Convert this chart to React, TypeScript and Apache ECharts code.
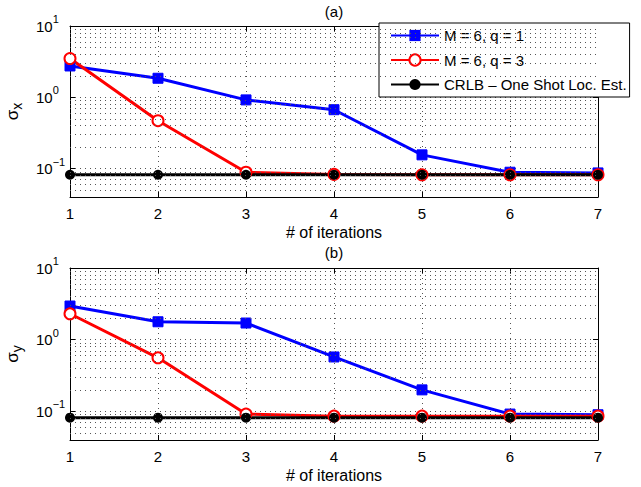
import React, { useEffect, useRef } from "react";
import * as echarts from "echarts";

const iterations = [1, 2, 3, 4, 5, 6, 7];
const seriesNames = ["M = 6, q = 1", "M = 6, q = 3", "CRLB \u2013 One Shot Loc. Est."];

const sigmaXq1 = [2.75, 1.85, 0.92, 0.67, 0.156, 0.089, 0.087];
const sigmaXq3 = [3.5, 0.47, 0.089, 0.083, 0.082, 0.082, 0.082];
const sigmaXcrlb = [0.082, 0.082, 0.082, 0.082, 0.082, 0.082, 0.082];

const sigmaYq1 = [2.95, 1.78, 1.71, 0.575, 0.2, 0.092, 0.09];
const sigmaYq3 = [2.3, 0.56, 0.092, 0.086, 0.086, 0.086, 0.086];
const sigmaYcrlb = [0.082, 0.082, 0.082, 0.082, 0.082, 0.082, 0.082];

const minorGrid = [0.05, 0.06, 0.07, 0.08, 0.09, 0.2, 0.3, 0.4, 0.5, 0.6, 0.7, 0.8, 0.9, 2, 3, 4, 5, 6, 7, 8, 9];

const FONT = "Liberation Sans, Arial, Helvetica, sans-serif";
const DOT = { color: "#555", width: 1, type: [1, 4] as any };

const logLabel = (v: number) => {
  const l = Math.log10(v);
  const e = Math.round(l);
  if (Math.abs(l - e) > 1e-6) return "";
  return `{b|10}{s|${e < 0 ? "\u2212" + -e : e}}`;
};

export default function App() {
  const ref = useRef<HTMLDivElement>(null);
  useEffect(() => {
    if (!ref.current) return;
    const chart = echarts.init(ref.current, null, { renderer: "svg" });
    const grids = [
      { left: 70, top: 26, width: 528, height: 171, containLabel: false, outerBoundsMode: "none" },
      { left: 70, top: 268, width: 528, height: 172, containLabel: false, outerBoundsMode: "none" },
    ];
    const xAxes: any[] = [];
    const yAxes: any[] = [];
    const series: any[] = [];
    const data = [
      [sigmaXq1, sigmaXq3, sigmaXcrlb],
      [sigmaYq1, sigmaYq3, sigmaYcrlb],
    ];
    const yNames = ["{s|\u03c3}{sub|x}", "{s|\u03c3}{sub|y}"];
    [0, 1].forEach((g) => {
      xAxes.push({
        type: "value",
        gridIndex: g,
        min: 1,
        max: 7,
        interval: 1,
        position: "bottom",
        name: "# of iterations",
        nameLocation: "middle",
        nameGap: 27,
        nameTextStyle: { fontFamily: FONT, fontSize: 16, color: "#000" },
        axisLine: { show: true, onZero: false, lineStyle: { color: "#000", width: 1 } },
        axisTick: { show: true, inside: true, length: 5, lineStyle: { color: "#000" } },
        axisLabel: { fontFamily: FONT, fontSize: 15, color: "#000", margin: 9 },
        splitLine: { show: true, lineStyle: DOT },
      });
      xAxes.push({
        type: "value",
        gridIndex: g,
        min: 1,
        max: 7,
        interval: 1,
        position: "top",
        axisLine: { show: true, onZero: false, lineStyle: { color: "#000", width: 1 } },
        axisTick: { show: true, inside: true, length: 5, lineStyle: { color: "#000" } },
        axisLabel: { show: false },
        splitLine: { show: false },
      });
      yAxes.push({
        type: "log",
        logBase: 10,
        gridIndex: g,
        min: 0.04,
        max: 10,
        position: "left",
        name: yNames[g],
        nameLocation: "middle",
        nameRotate: 90,
        nameGap: 46,
        nameTextStyle: {
          rich: {
            s: { fontFamily: FONT, fontSize: 17, color: "#000" },
            sub: { fontFamily: FONT, fontSize: 14, color: "#000", padding: [9, 0, 0, 0] },
          },
        },
        axisLine: { show: true, onZero: false, lineStyle: { color: "#000", width: 1 } },
        axisTick: { show: true, inside: true, length: 5, lineStyle: { color: "#000" } },
        axisLabel: {
          formatter: logLabel,
          align: "left",
          margin: 34,
          showMinLabel: false,
          rich: {
            b: { fontFamily: FONT, fontSize: 15, color: "#000" },
            s: { fontFamily: FONT, fontSize: 11, color: "#000", padding: [0, 0, 14, 0] },
          },
        },
        splitLine: { show: true, lineStyle: DOT },
      });
      yAxes.push({
        type: "log",
        logBase: 10,
        gridIndex: g,
        min: 0.04,
        max: 10,
        position: "right",
        axisLine: { show: true, onZero: false, lineStyle: { color: "#000", width: 1 } },
        axisTick: { show: true, inside: true, length: 5, lineStyle: { color: "#000" } },
        axisLabel: { show: false },
        splitLine: { show: false },
      });
      const xi = g * 2;
      const yi = g * 2;
      series.push({
        type: "line",
        name: "minor" + g,
        xAxisIndex: xi,
        yAxisIndex: yi,
        data: [],
        silent: true,
        markLine: {
          silent: true,
          symbol: "none",
          label: { show: false },
          emphasis: { disabled: true },
          lineStyle: DOT,
          data: minorGrid.map((v) => ({ yAxis: v })),
        },
      });
      const d = data[g];
      series.push({
        type: "line",
        name: seriesNames[0],
        xAxisIndex: xi,
        yAxisIndex: yi,
        data: iterations.map((x, i) => [x, d[0][i]]),
        symbol: "rect",
        symbolSize: 10,
        lineStyle: { color: "#0000ff", width: 3 },
        itemStyle: { color: "#0000ff", borderColor: "#0000ff" },
      });
      series.push({
        type: "line",
        name: seriesNames[1],
        xAxisIndex: xi,
        yAxisIndex: yi,
        data: iterations.map((x, i) => [x, d[1][i]]),
        symbol: "emptyCircle",
        symbolSize: 11,
        lineStyle: { color: "#ff0000", width: 3 },
        itemStyle: { color: "#ff0000", borderColor: "#ff0000", borderWidth: 2.5 },
      });
      series.push({
        type: "line",
        name: seriesNames[2],
        xAxisIndex: xi,
        yAxisIndex: yi,
        data: iterations.map((x, i) => [x, d[2][i]]),
        symbol: "circle",
        symbolSize: 10,
        lineStyle: { color: "#000000", width: 3 },
        itemStyle: { color: "#000000" },
      });
    });

    chart.setOption({
      animation: false,
      backgroundColor: "#fff",
      grid: grids,
      xAxis: xAxes,
      yAxis: yAxes,
      legend: {
        data: seriesNames,
        orient: "vertical",
        left: 379,
        top: 23,
        backgroundColor: "#fff",
        borderColor: "#000",
        borderWidth: 1,
        borderRadius: 0,
        padding: [5, 3, 5, 11],
        itemWidth: 48,
        itemHeight: 14,
        itemGap: 9.5,
        selectedMode: false,
        textStyle: { fontFamily: FONT, fontSize: 15, color: "#000" },
      },
      graphic: [
        {
          type: "text",
          x: 334,
          y: 11,
          style: { text: "(a)", fontFamily: FONT, fontSize: 15, fill: "#000", align: "center", verticalAlign: "middle" },
        },
        {
          type: "text",
          x: 334,
          y: 252,
          style: { text: "(b)", fontFamily: FONT, fontSize: 15, fill: "#000", align: "center", verticalAlign: "middle" },
        },
      ],
      series,
    });
    return () => chart.dispose();
  }, []);
  return <div ref={ref} style={{ width: 641, height: 487, position: "absolute", left: 0, top: 0 }} />;
}
